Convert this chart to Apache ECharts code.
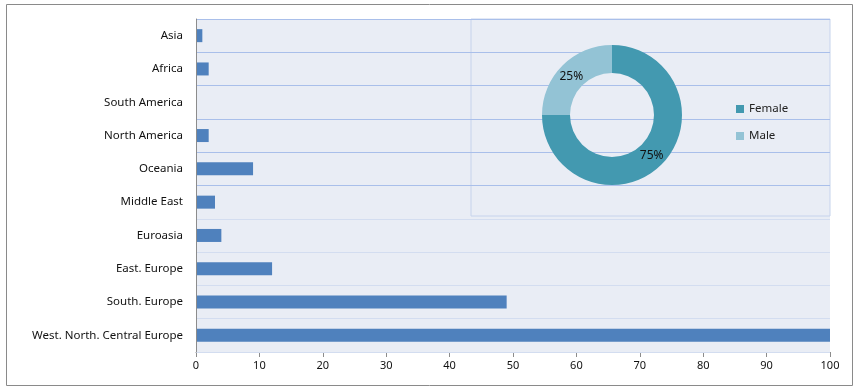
<!DOCTYPE html>
<html>
<head>
<meta charset="utf-8">
<script src="https://cdn.jsdelivr.net/npm/echarts@6/dist/echarts.min.js"></script>
<style>
html,body{margin:0;padding:0;background:#fff;}
#c{width:856px;height:390px;}
</style>
</head>
<body>
<div id="c"></div>
<script>
const categories = ['Asia','Africa','South America','North America','Oceania','Middle East','Euroasia','East. Europe','South. Europe','West. North. Central Europe'];
const values = [1, 2, 0, 2, 9, 3, 4, 12, 49, 100];
const xTicks = {min: 0, max: 100, interval: 10};
const pieNames = ['Female', 'Male'];
const pieValues = [75, 25];

const FONT = '"Noto Sans", "Open Sans", sans-serif';
const blue = '#A9BFEA', light = '#D3DDF0';
const labelOffsets = [[-2, -1], [1, 3]];
const chart = echarts.init(document.getElementById('c'), null, {renderer: 'canvas'});
chart.setOption({
  animation: false,
  backgroundColor: '#fff',
  textStyle: {fontFamily: FONT},
  graphic: [{
    type: 'rect', left: 4, top: 2, z: -10,
    shape: {width: 846, height: 381},
    style: {fill: 'none', stroke: '#8a8a8a', lineWidth: 1}
  }],
  grid: [
    {left: 196, right: 26, top: 19, bottom: 38, show: true, backgroundColor: '#E9EDF5', borderWidth: 0, containLabel: false},
    {left: 471, right: 26, top: 19, height: 197, show: true, backgroundColor: 'transparent', borderColor: '#C6D3EC', borderWidth: 1, z: 0}
  ],
  xAxis: [
    {type: 'value', gridIndex: 0, min: xTicks.min, max: xTicks.max, interval: xTicks.interval,
     axisLine: {show: true, lineStyle: {color: '#8c8c8c'}},
     axisTick: {show: true, length: 5, lineStyle: {color: '#8c8c8c'}},
     axisLabel: {color: '#111', fontSize: 11, fontFamily: FONT, margin: 8},
     splitLine: {show: false}},
    {type: 'value', gridIndex: 1, show: false, splitLine: {show: false}}
  ],
  yAxis: [
    {type: 'category', gridIndex: 0, data: categories, inverse: true, z: 3,
     axisLine: {show: true, lineStyle: {color: '#8c8c8c'}},
     axisTick: {show: false},
     axisLabel: {color: '#111', fontSize: 11.5, fontFamily: FONT, margin: 13},
     splitLine: {show: true, lineStyle: {width: 1, color: [blue, blue, blue, blue, blue, blue, light, light, light, light, light]}}},
    {type: 'category', gridIndex: 1, show: false, data: ['a'], splitLine: {show: false}}
  ],
  legend: {
    orient: 'vertical', left: 731, top: 98, itemWidth: 8, itemHeight: 8, itemGap: 15,
    icon: 'rect', data: pieNames,
    textStyle: {color: '#222', fontSize: 11.5, fontFamily: FONT}
  },
  series: [
    {type: 'bar', xAxisIndex: 0, yAxisIndex: 0, data: values, barWidth: 13,
     itemStyle: {color: '#4F81BD'}, silent: true},
    {type: 'pie', center: [612, 115], radius: [42, 70], startAngle: 90, clockwise: true,
     data: pieNames.map((n, i) => ({name: n, value: pieValues[i], label: {offset: labelOffsets[i]}})),
     color: ['#4399B0', '#93C3D5'],
     label: {show: true, position: 'inside', formatter: '{d}%', color: '#111', fontSize: 12, fontFamily: FONT},
     labelLine: {show: false}, z: 5}
  ]
});
</script>
</body>
</html>
